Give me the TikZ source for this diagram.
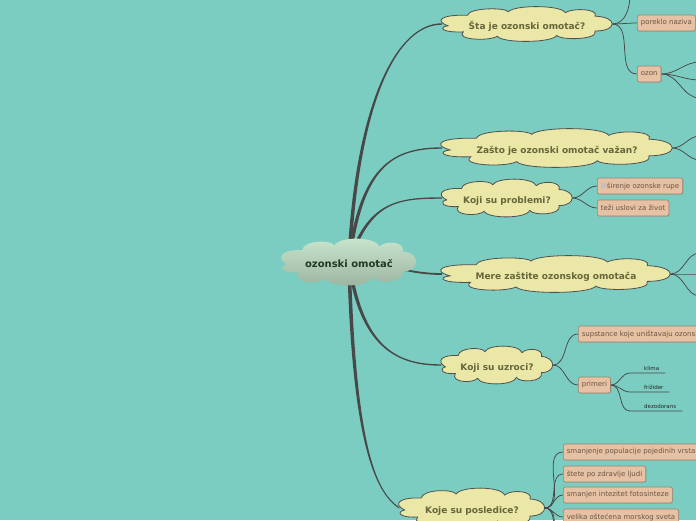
\documentclass[tikz,border=0pt]{standalone}
\usepackage{fontspec}
\setmainfont{DejaVu Sans}
\usetikzlibrary{shadows,calc}

\definecolor{bgteal}{HTML}{7BCDC2}
\definecolor{cloudfill}{HTML}{EBE7A6}
\definecolor{clouddraw}{HTML}{505050}
\definecolor{cloudtext}{HTML}{66663C}
\definecolor{roottop}{HTML}{CAE6CE}
\definecolor{rootbottom}{HTML}{9AB39F}
\definecolor{roottext}{HTML}{1E3A22}
\definecolor{boxfill}{HTML}{E6C1A3}
\definecolor{boxdraw}{HTML}{9A826E}
\definecolor{boxtext}{HTML}{6A5545}
\definecolor{linec}{HTML}{484848}

\pgfdeclarelayer{bglayer}
\pgfdeclarelayer{edges}
\pgfdeclarelayer{clouds}
\pgfsetlayers{bglayer,edges,clouds,main}

% cloud outline, fits in [-1,1]x[-1,1]
\tikzset{cloudpic/.pic={
    \path[pic actions] (-0.93,0.1)
        .. controls (-1.1,-0.2) and (-1.0,-0.55) .. (-0.7,-0.5)
        .. controls (-0.68,-0.95) and (-0.25,-0.95) .. (-0.22,-0.7)
        .. controls (-0.15,-1.1) and (0.4,-1.1) .. (0.45,-0.65)
        .. controls (0.55,-0.95) and (0.85,-0.85) .. (0.8,-0.45)
        .. controls (1.07,-0.4) and (1.07,0.4) .. (0.8,0.4)
        .. controls (0.85,0.9) and (0.4,0.95) .. (0.35,0.65)
        .. controls (0.3,1.1) and (-0.3,1.1) .. (-0.35,0.7)
        .. controls (-0.45,1.0) and (-0.85,0.9) .. (-0.75,0.45)
        .. controls (-1.0,0.5) and (-1.05,0.2) .. (-0.93,0.1) -- cycle;
}}

% thick connector, thinner towards its end
\newcommand\taperline[5]{%
    \fill[linec] ($(#1)+(-1.8,0)$) .. controls ($(#1)+(#2)+(-1.8,0)$) and ($(#4)+(#3)+(0,-#5)$) .. ($(#4)+(0,-#5)$)
        -- ($(#4)+(0,#5)$) .. controls ($(#4)+(#3)+(0,#5)$) and ($(#1)+(#2)+(1.8,0)$) .. ($(#1)+(1.8,0)$) -- cycle;}

\begin{document}
\begin{tikzpicture}[x=1pt,y=-1pt,
        qbox/.style={inner sep=0pt, text height=10pt, text depth=0pt, text=cloudtext,
            font=\fontsize{9}{10}\selectfont\bfseries},
        qcloud/.style={draw=clouddraw, line width=0.8pt, fill=cloudfill},
        leafbox/.style={anchor=west, rounded corners=2pt, draw=boxdraw, line width=0.6pt,
            fill=boxfill, text=boxtext, font=\fontsize{7}{8}\selectfont,
            inner xsep=3.5pt, inner ysep=0pt, minimum height=16pt,
            drop shadow={shadow xshift=0.8pt, shadow yshift=-0.8pt, opacity=0.25}},
        smallleaf/.style={anchor=south west, inner xsep=0pt, inner ysep=1.8pt,
            text=black!85, font=\fontsize{5.5}{6}\selectfont},
        thinline/.style={draw=linec, line width=0.75pt}]

        % Background
        \useasboundingbox (0,0) rectangle (696,520);
        \begin{pgfonlayer}{bglayer}
            \fill[bgteal] (0,0) rectangle (696,520);
        \end{pgfonlayer}

        % Central topic
        \node[inner sep=0pt, minimum width=134pt, minimum height=47pt, text height=10pt, text depth=0pt,
            text=roottext, font=\fontsize{10}{11}\selectfont\bfseries] (root) at (349,262) {ozonski omotač};

        % Questions
        \node[qbox, minimum width=170pt, minimum height=35pt] (q1) at (527,24) {Šta je ozonski omotač?};
        \node[qbox, minimum width=230pt, minimum height=39pt] (q2) at (557,148) {Zašto je ozonski omotač važan?};
        \node[qbox, minimum width=130pt, minimum height=38pt] (q3) at (507,198) {Koji su problemi?};
        \node[qbox, minimum width=228pt, minimum height=37pt] (q4) at (556,274) {Mere zaštite ozonskog omotača};
        \node[qbox, minimum width=111pt, minimum height=38pt] (q5) at (497,365) {Koji su uzroci?};
        \node[qbox, minimum width=145pt, minimum height=40pt] (q6) at (472,508) {Koje su posledice?};

        \begin{pgfonlayer}{clouds}
            \pic[top color=roottop, bottom color=rootbottom, xscale=67, yscale=23.5] at (root) {cloudpic};
            \foreach \n/\w/\h in {q1/85/17.5, q2/115/19.5, q3/65/19, q4/114/18.5, q5/55.5/19, q6/72.5/20}
                \pic[qcloud, xscale=\w, yscale=\h] at (\n) {cloudpic};
        \end{pgfonlayer}

        % Answers
        \node[leafbox] (poreklo) at (637,23) {poreklo naziva};
        \node[leafbox] (ozon) at (637,74) {ozon};
        \node[leafbox] (sirenje) at (597,186) {\textcolor{black!25}{\rule{5pt}{5pt}}\,širenje ozonske rupe};
        \node[leafbox] (uslovi) at (597,208) {teži uslovi za život};
        \node[leafbox] (supstance) at (578,334) {supstance koje uništavaju ozonski omotač};
        \node[leafbox] (primeri) at (578,385) {primeri};
        \node[leafbox] (populacija) at (563,452) {smanjenje populacije pojedinih vrsta};
        \node[leafbox] (zdravlje) at (563,474) {štete po zdravlje ljudi};
        \node[leafbox] (fotosinteza) at (563,495) {smanjen intezitet fotosinteze};
        \node[leafbox] (more) at (563,517) {velika oštećena morskog sveta};

        % Examples
        \node[smallleaf] (klima) at (644,373) {klima};
        \node[smallleaf] (frizider) at (644,392) {frižider};
        \node[smallleaf] (dezodorans) at (644,411) {dezodorans};

        % Loose ends past the border
        \coordinate (up1) at (630,-6);
        \coordinate (oz1) at (700,62);
        \coordinate (oz2) at (700,80);
        \coordinate (oz3) at (700,98);
        \coordinate (za1) at (700,136);
        \coordinate (za2) at (700,160);
        \coordinate (me1) at (700,253);
        \coordinate (me2) at (700,274);
        \coordinate (me3) at (700,296);
        \coordinate (po1) at (563,540);
        \coordinate (po2) at (563,562);

        % Connectors
        \begin{pgfonlayer}{edges}
            \taperline{root.center}{8,-160}{-45,0}{q1.west}{0.7}
            \taperline{root.center}{12,-95}{-50,0}{q2.west}{0.7}
            \taperline{root.center}{20,-60}{-45,0}{q3.west}{0.7}
            \draw[linec, line width=1.8pt] (root.center) to[out=0,in=180] (q4.west);
            \taperline{root.center}{12,85}{-45,0}{q5.west}{-0.7}
            \taperline{root.center}{5,190}{-22,-15}{q6.west}{-0.7}

            \draw[thinline] (q1.east) to[out=0,in=-90] (up1);
            \draw[thinline] (q1.east) to[out=0,in=180] (poreklo.west);
            \draw[thinline] (q1.east) to[out=0,in=180] (ozon.west);
            \foreach \c in {oz1,oz2,oz3}
                \draw[thinline] (ozon.east) to[out=0,in=180] (\c);
            \foreach \c in {za1,za2}
                \draw[thinline] (q2.east) to[out=0,in=180] (\c);
            \draw[thinline] (q3.east) to[out=0,in=180] (sirenje.west);
            \draw[thinline] (q3.east) to[out=0,in=180] (uslovi.west);
            \foreach \c in {me1,me2,me3}
                \draw[thinline] (q4.east) to[out=0,in=180] (\c);
            \draw[thinline] (q5.east) to[out=0,in=180] (supstance.west);
            \draw[thinline] (q5.east) to[out=0,in=180] (primeri.west);
            \foreach \n in {klima,frizider,dezodorans}
                \draw[thinline] (primeri.east) to[out=0,in=180] ([xshift=-14pt]\n.south west)
                    -- ([xshift=6pt]\n.south east);
            \foreach \n in {populacija,zdravlje,fotosinteza,more}
                \draw[thinline] (q6.east) to[out=0,in=180] (\n.west);
            \foreach \c in {po1,po2}
                \draw[thinline] (q6.east) to[out=0,in=180] (\c);
        \end{pgfonlayer}
    \end{tikzpicture}
\end{document}
